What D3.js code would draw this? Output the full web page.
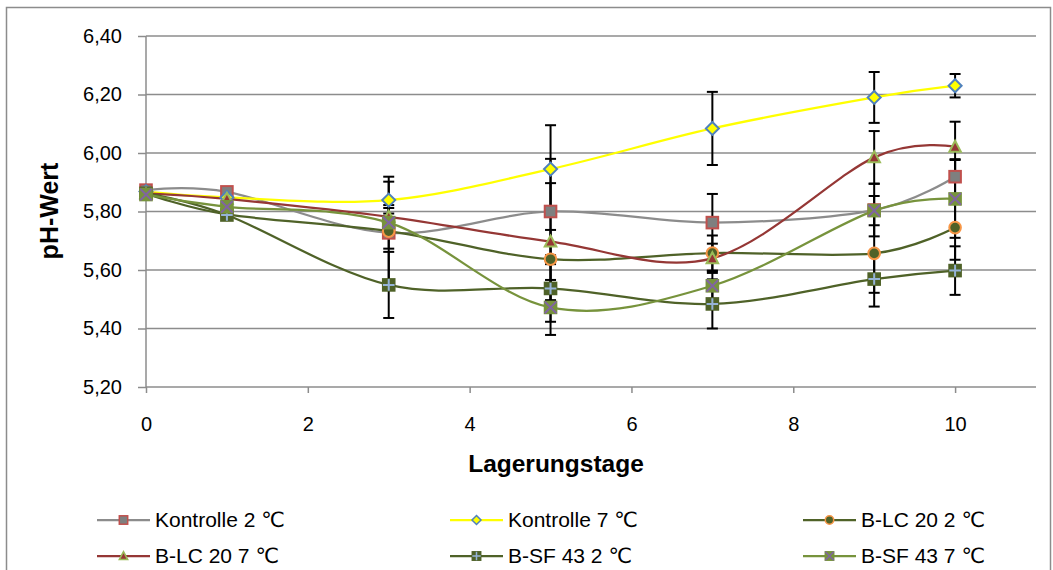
<!DOCTYPE html>
<html>
<head>
<meta charset="utf-8">
<script src="https://cdn.jsdelivr.net/npm/d3@7"></script>
<style>
  html, body { margin: 0; padding: 0; background: #fff; }
  svg { display: block; font-family: Arial, "Liberation Sans", "DejaVu Sans", sans-serif; }
</style>
</head>
<body>
<svg id="chart" width="1053" height="570"></svg>
<script>
// Storage days (x) and pH readings per sample
const days = [0, 1, 3, 5, 7, 9, 10];

const kontrolle2 = [5.873, 5.867, 5.727, 5.800, 5.762, 5.805, 5.919];
const kontrolle7 = [5.868, 5.848, 5.839, 5.945, 6.084, 6.190, 6.230];
const blc20_2    = [5.862, 5.790, 5.733, 5.637, 5.658, 5.657, 5.745];
const blc20_7    = [5.862, 5.843, 5.782, 5.697, 5.640, 5.985, 6.021];
const bsf43_2    = [5.862, 5.788, 5.549, 5.537, 5.484, 5.569, 5.598];
const bsf43_7    = [5.858, 5.816, 5.762, 5.472, 5.546, 5.803, 5.843];

// Standard deviations (± error bars)
const errKontrolle2 = [0, 0, 0.175, 0.180, 0.098, 0.090, 0.060];
const errKontrolle7 = [0, 0, 0.080, 0.150, 0.125, 0.087, 0.040];
const errBlc20_2    = [0, 0, 0.060, 0.100, 0.060, 0.135, 0.110];
const errBlc20_7    = [0, 0, 0.040, 0.200, 0.050, 0.090, 0.086];
const errBsf43_2    = [0, 0.017, 0.113, 0.114, 0.084, 0.094, 0.083];
const errBsf43_7    = [0, 0, 0.050, 0.094, 0.050, 0.050, 0.133];

const seriesNames = ["Kontrolle 2 \u2103", "Kontrolle 7 \u2103", "B-LC 20 2 \u2103",
                     "B-LC 20 7 \u2103", "B-SF 43 2 \u2103", "B-SF 43 7 \u2103"];

const yTicks = [5.2, 5.4, 5.6, 5.8, 6.0, 6.2, 6.4];
const xTicks = [0, 2, 4, 6, 8, 10];

const series = [
  { name: seriesNames[0], values: kontrolle2, err: errKontrolle2, line: "#8C8C8C", shape: "square", fill: "#7F7F7F", stroke: "#C0504D" },
  { name: seriesNames[1], values: kontrolle7, err: errKontrolle7, line: "#FFFF00", shape: "diamond", fill: "#FFFF00", stroke: "#4F81BD" },
  { name: seriesNames[2], values: blc20_2, err: errBlc20_2, line: "#4F6228", shape: "circle", fill: "#4F6228", stroke: "#F79646" },
  { name: seriesNames[3], values: blc20_7, err: errBlc20_7, line: "#953735", shape: "triangle", fill: "#953735", stroke: "#9BBB59" },
  { name: seriesNames[4], values: bsf43_2, err: errBsf43_2, line: "#4F6228", shape: "plus", fill: "#4F6228", stroke: "#95B3D7" },
  { name: seriesNames[5], values: bsf43_7, err: errBsf43_7, line: "#77933C", shape: "cross", fill: "#77933C", stroke: "#8064A2" }
];

const svg = d3.select("#chart");
const plot = { left: 146, right: 1036, top: 36, bottom: 387 };

const x = d3.scaleLinear().domain([0, 11]).range([plot.left, plot.right]);
const y = d3.scaleLinear().domain([5.2, 6.4]).range([plot.bottom, plot.top]);
const fmt = v => d3.format(".2f")(v).replace(".", ",");

// Outer chart frame
svg.append("rect")
  .attr("x", 6.5).attr("y", 7.5).attr("width", 1044).attr("height", 580)
  .attr("fill", "#fff").attr("stroke", "#8C8C8C").attr("stroke-width", 1.5);

// Horizontal gridlines
svg.append("g").selectAll("line").data(yTicks.slice(1)).join("line")
  .attr("x1", plot.left).attr("x2", plot.right)
  .attr("y1", d => y(d)).attr("y2", d => y(d))
  .attr("stroke", "#8C8C8C").attr("stroke-width", 1.5);

// Y axis
const yAxis = svg.append("g")
  .attr("transform", `translate(${plot.left},0)`)
  .call(d3.axisLeft(y).tickValues(yTicks).tickFormat(fmt).tickSize(8).tickPadding(16));
yAxis.select(".domain").attr("stroke", "#8C8C8C").attr("stroke-width", 1.5).attr("d", `M0,${plot.top}V${plot.bottom}`);
yAxis.selectAll(".tick line").attr("stroke", "#8C8C8C").attr("stroke-width", 1.5);
yAxis.selectAll(".tick text").attr("font-size", 20).attr("fill", "#000")
  .attr("font-family", "Arial, 'Liberation Sans', sans-serif");

// X axis
const xAxis = svg.append("g")
  .attr("transform", `translate(0,${plot.bottom})`)
  .call(d3.axisBottom(x).tickValues(xTicks).tickFormat(d3.format("d")).tickSize(6).tickPadding(24));
xAxis.select(".domain").attr("stroke", "#8C8C8C").attr("stroke-width", 1.5).attr("d", `M${plot.left},0H${plot.right}`);
xAxis.selectAll(".tick line").attr("stroke", "#8C8C8C").attr("stroke-width", 1.5);
xAxis.selectAll(".tick text").attr("font-size", 20).attr("fill", "#000")
  .attr("font-family", "Arial, 'Liberation Sans', sans-serif");

// Axis titles
svg.append("text")
  .attr("transform", "translate(58,211) rotate(-90)")
  .attr("text-anchor", "middle")
  .attr("font-size", 25).attr("font-weight", "bold")
  .text("pH-Wert");
svg.append("text")
  .attr("x", 556).attr("y", 471.5)
  .attr("text-anchor", "middle")
  .attr("font-size", 24.5).attr("font-weight", "bold")
  .text("Lagerungstage");

// Smoothed lines
const lineGen = d3.line()
  .x((d, i) => x(days[i]))
  .y(d => y(d))
  .curve(d3.curveCardinal.tension(0));

svg.append("g").selectAll("path").data(series).join("path")
  .attr("d", s => lineGen(s.values))
  .attr("fill", "none")
  .attr("stroke", s => s.line)
  .attr("stroke-width", 2.25);

// Error bars
const errG = svg.append("g").attr("stroke", "#000").attr("stroke-width", 2);
series.forEach(s => {
  s.values.forEach((v, i) => {
    const e = s.err[i];
    if (!e) return;
    const cx = x(days[i]), y1 = y(v + e), y2 = y(v - e);
    errG.append("line").attr("x1", cx).attr("x2", cx).attr("y1", y1).attr("y2", y2);
    errG.append("line").attr("x1", cx - 5.5).attr("x2", cx + 5.5).attr("y1", y1).attr("y2", y1);
    errG.append("line").attr("x1", cx - 5.5).attr("x2", cx + 5.5).attr("y1", y2).attr("y2", y2);
  });
});

// Marker drawing
function drawMarker(g, s, cx, cy, r) {
  const sw = r > 5 ? 2 : 1.5;
  if (s.shape === "square" || s.shape === "plus" || s.shape === "cross") {
    g.append("rect").attr("x", cx - r).attr("y", cy - r).attr("width", 2 * r).attr("height", 2 * r)
      .attr("fill", s.fill).attr("stroke", s.shape === "square" ? s.stroke : s.fill).attr("stroke-width", sw);
    if (s.shape === "plus") {
      g.append("path").attr("d", `M${cx - r},${cy}H${cx + r}M${cx},${cy - r}V${cy + r}`)
        .attr("stroke", s.stroke).attr("stroke-width", sw);
    } else if (s.shape === "cross") {
      g.append("path").attr("d", `M${cx - r},${cy - r}L${cx + r},${cy + r}M${cx + r},${cy - r}L${cx - r},${cy + r}`)
        .attr("stroke", s.stroke).attr("stroke-width", sw);
    }
  } else if (s.shape === "diamond") {
    g.append("path").attr("d", `M${cx},${cy - r}L${cx + r},${cy}L${cx},${cy + r}L${cx - r},${cy}Z`)
      .attr("fill", s.fill).attr("stroke", s.stroke).attr("stroke-width", sw);
  } else if (s.shape === "circle") {
    g.append("circle").attr("cx", cx).attr("cy", cy).attr("r", r)
      .attr("fill", s.fill).attr("stroke", s.stroke).attr("stroke-width", sw);
  } else if (s.shape === "triangle") {
    g.append("path").attr("d", `M${cx},${cy - r * 1.05}L${cx + r},${cy + r * 0.85}L${cx - r},${cy + r * 0.85}Z`)
      .attr("fill", s.fill).attr("stroke", s.stroke).attr("stroke-width", sw);
  }
}

const markG = svg.append("g");
series.forEach(s => {
  s.values.forEach((v, i) => {
    const r = s.shape === "diamond" ? 6.5 : 5.8;
    drawMarker(markG, s, x(days[i]), y(v), r);
  });
});

// Legend
const legendCols = [97, 450, 803];
const legendRows = [520, 556];
const leg = svg.append("g");
series.forEach((s, i) => {
  const lx = legendCols[i % 3], ly = legendRows[Math.floor(i / 3)];
  leg.append("line").attr("x1", lx).attr("x2", lx + 53).attr("y1", ly).attr("y2", ly)
    .attr("stroke", s.line).attr("stroke-width", 2.25);
  drawMarker(leg, s, lx + 26.5, ly, s.shape === "diamond" ? 4.5 : 4.2);
  leg.append("text").attr("x", lx + 58).attr("y", ly + 7)
    .attr("font-size", 21).text(s.name);
});
</script>
</body>
</html>
